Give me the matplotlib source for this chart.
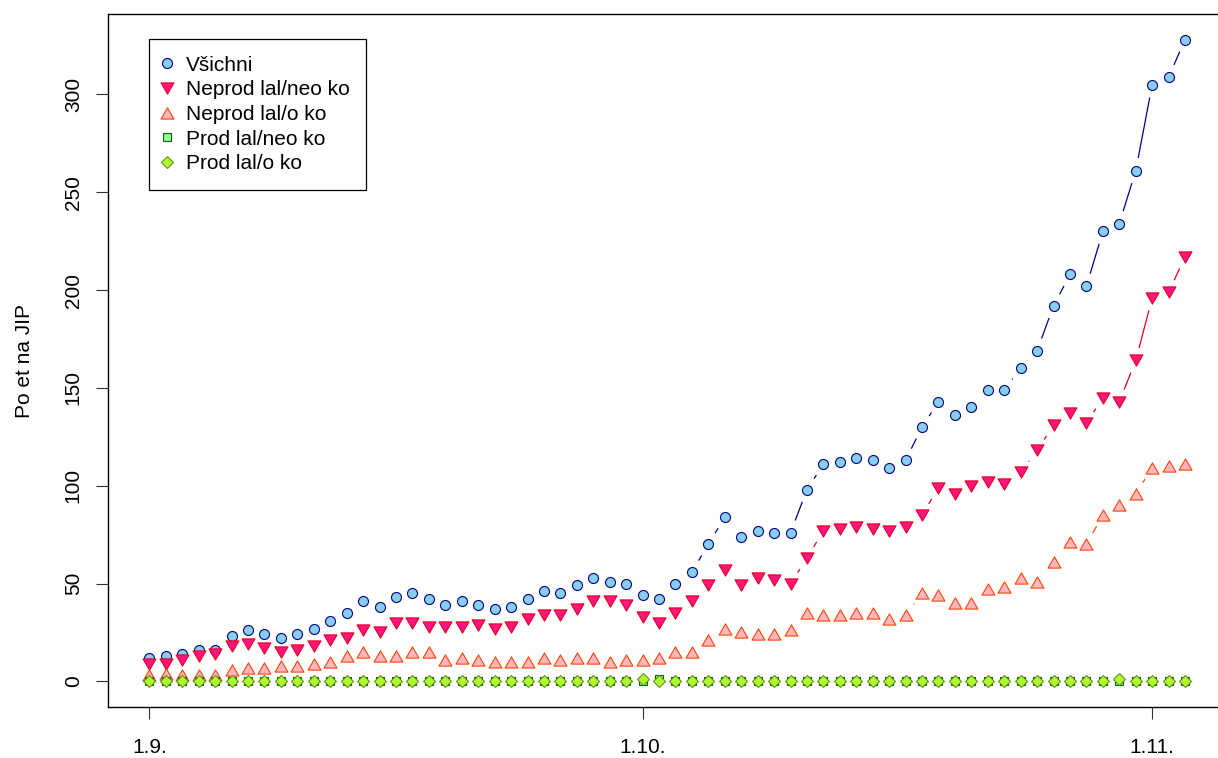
import numpy as np
import matplotlib
matplotlib.use("Agg")
import matplotlib.pyplot as plt
from matplotlib.path import Path
from matplotlib.collections import LineCollection
from matplotlib.lines import Line2D

# ---------------- data ----------------
day = np.arange(64)  # days since 1.9.
tick_days = [0, 30, 61]
tick_labels = ["1.9.", "1.10.", "1.11."]

vsichni = [12, 13, 14, 16, 16, 23, 26, 24, 22, 24, 27, 31, 35, 41, 38, 43, 45, 42, 39, 41,
           39, 37, 38, 42, 46, 45, 49, 53, 51, 50, 44, 42, 50, 56, 70, 84, 74, 77, 76, 76,
           98, 111, 112, 114, 113, 109, 113, 130, 143, 136, 140, 149, 149, 160, 169, 192,
           208, 202, 230, 234, 261, 305, 309, 328]
neprod_neo = [9, 9, 11, 13, 14, 18, 19, 17, 15, 16, 18, 21, 22, 26, 25, 30, 30, 28, 28, 28,
              29, 27, 28, 32, 34, 34, 37, 41, 41, 39, 33, 30, 35, 41, 49, 57, 49, 53, 52, 50,
              63, 77, 78, 79, 78, 77, 79, 85, 99, 96, 100, 102, 101, 107, 118, 131, 137, 132,
              145, 143, 164, 196, 199, 217]
neprod_o = [3, 4, 3, 3, 3, 6, 7, 7, 8, 8, 9, 10, 13, 15, 13, 13, 15, 15, 11, 12,
            11, 10, 10, 10, 12, 11, 12, 12, 10, 11, 11, 12, 15, 15, 21, 27, 25, 24, 24, 26,
            35, 34, 34, 35, 35, 32, 34, 45, 44, 40, 40, 47, 48, 53, 51, 61, 71, 70, 85, 90,
            96, 109, 110, 111]
prod_neo = [0] * 64
prod_neo[31] = 1
prod_o = [0] * 64
prod_o[30] = 1
prod_o[59] = 1

labels = ["Všichni", "Neprod lal/neo ko", "Neprod lal/o ko", "Prod lal/neo ko", "Prod lal/o ko"]

# ---------------- styling ----------------
plt.rcParams['font.family'] = ['Liberation Sans', 'DejaVu Sans']
FS = 15.0

W, H, DPI = 1218, 758, 100
fig = plt.figure(figsize=(W / DPI, H / DPI), dpi=DPI)
left, right, top, bottom = 108, 1226.5, 14, 707
ax = fig.add_axes([left / W, (H - bottom) / H, (right - left) / W, (bottom - top) / H])

ymax = max(vsichni)
ax.set_xlim(-0.04 * 63, 63 * 1.04)
ax.set_ylim(-0.04 * ymax, ymax * 1.04)

tri_down = Path([(-1, 0.866), (1, 0.866), (0, -0.866), (-1, 0.866)],
                [Path.MOVETO, Path.LINETO, Path.LINETO, Path.CLOSEPOLY])
tri_up = Path([(-1, -0.866), (1, -0.866), (0, 0.866), (-1, -0.866)],
              [Path.MOVETO, Path.LINETO, Path.LINETO, Path.CLOSEPOLY])

series = [
    (vsichni, 'o', 7.2, '#87CEEB', '#00008B', '#00008B'),
    (neprod_neo, tri_down, 9.3, '#FF1480', '#E8001C', '#E8001C'),
    (neprod_o, tri_up, 9.3, '#FFB6C1', '#FF4500', '#FF4500'),
    (prod_neo, 's', 5.6, '#98FB98', '#006400', '#006400'),
    (prod_o, 'D', 6.0, '#ADFF2F', '#6B8E23', '#6B8E23'),
]

GAP = 13.0  # pixels left free around each point (R type="b")
inv = ax.transData.inverted()
handles = []
for i, (vals, mk, ms, fc, ec, lc) in enumerate(series):
    pts = ax.transData.transform(np.column_stack([day, vals]))
    segs = []
    for p0, p1 in zip(pts[:-1], pts[1:]):
        d = p1 - p0
        L = np.hypot(d[0], d[1])
        if L > 2 * GAP:
            u = d / L
            segs.append(inv.transform(np.array([p0 + u * GAP, p1 - u * GAP])))
    ax.add_collection(LineCollection(segs, colors=lc, linewidths=0.9, zorder=2 + 2 * i))
    ax.plot(day, vals, linestyle='none', marker=mk, markersize=ms, markerfacecolor=fc,
            markeredgecolor=ec, markeredgewidth=0.8, zorder=3 + 2 * i, clip_on=False)
    handles.append(Line2D([], [], linestyle='none', marker=mk, markersize=ms,
                          markerfacecolor=fc, markeredgecolor=ec, markeredgewidth=0.8))

ax.set_xticks(tick_days)
ax.set_xticklabels(tick_labels)
ax.set_yticks([0, 50, 100, 150, 200, 250, 300])
ax.tick_params(axis='both', direction='out', length=8.6, width=0.8, labelsize=FS, color='#333333')
ax.tick_params(axis='x', pad=14)
ax.tick_params(axis='y', pad=9.5, labelrotation=90)
for lab in ax.get_yticklabels():
    lab.set_va('center')
for s in ax.spines.values():
    s.set_linewidth(1.0)

fig.text(25 / W, 1 - 360.5 / H, "Po et na JIP", rotation=90, ha='center', va='center', fontsize=FS)

leg = ax.legend(handles, labels, loc='upper left',
                bbox_to_anchor=(149 / W, 1 - 39 / H), bbox_transform=fig.transFigure,
                frameon=True, fancybox=False, edgecolor='black', framealpha=1,
                fontsize=FS, handlelength=0.1, handletextpad=0.87, labelspacing=0.27,
                borderpad=0.8, borderaxespad=0, numpoints=1)
leg.get_frame().set_linewidth(0.9)
leg.set_zorder(20)

fig.savefig("out.png", dpi=DPI)
